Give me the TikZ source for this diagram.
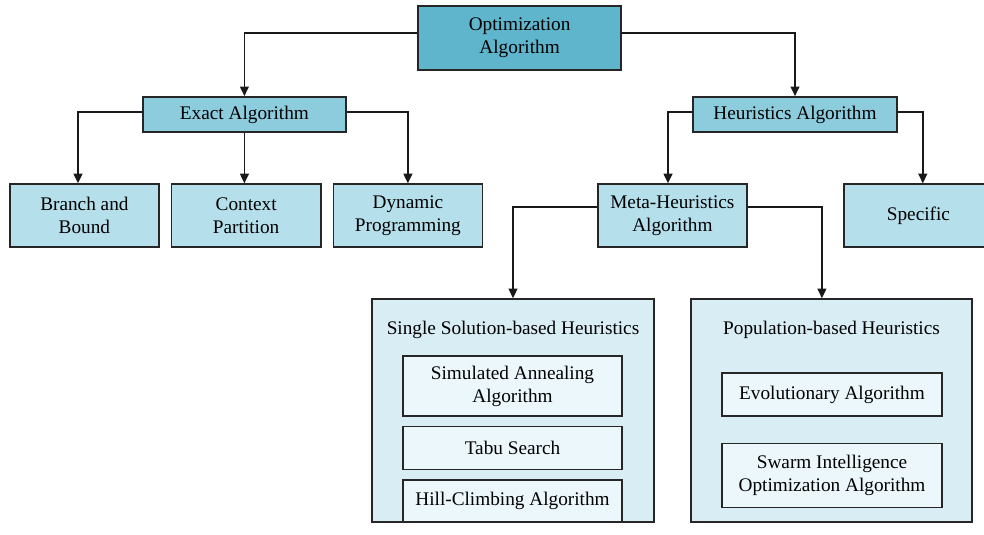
\documentclass[tikz,border=0pt]{standalone}
\usepackage{fontspec}
\setmainfont{Liberation Serif}
\usepackage{tikz}
\usetikzlibrary{arrows.meta, positioning, calc}
\usepackage{xcolor}
\definecolor{cTop}{RGB}{94,181,204}
\definecolor{cMid}{RGB}{141,204,221}
\definecolor{cLeaf}{RGB}{181,223,235}
\definecolor{cGroup}{RGB}{216,237,244}
\definecolor{cInner}{RGB}{236,247,251}
\tikzset{
  basebox/.style={rectangle, draw=black!85, line width=1.1pt, align=center,
                  font=\fontsize{13.7}{16.4}\selectfont, inner sep=2pt},
  topnode/.style={basebox, fill=cTop, minimum width=5.08cm,
                  minimum height=1.6cm},
  midnode/.style={basebox, fill=cMid, minimum width=5.08cm,
                  minimum height=0.875cm},
  leafnode/.style={basebox, fill=cLeaf, minimum width=3.73cm,
                   minimum height=1.575cm},
  groupnode/.style={basebox, fill=cGroup, minimum width=7.05cm,
                    minimum height=5.575cm},
  innernode/.style={basebox, fill=cInner, minimum width=5.5cm},
  headnode/.style={font=\fontsize{13.7}{16.4}\selectfont, inner sep=0pt},
  arrow/.style={-{Triangle[length=2.4mm, width=2.2mm]}, line width=1.1pt,
                color=black!90}
}

\begin{document}
\begin{tikzpicture}
  \useasboundingbox (0,0) rectangle (24.6,-13.35);

  % Root
  \node[topnode] (opt) at (12.99,-0.95) {Optimization\\Algorithm};

  % Second level
  \node[midnode] (exact) at (6.11,-2.86) {Exact Algorithm};
  \node[midnode, minimum width=5.1cm] (heur) at (19.875,-2.86) {Heuristics Algorithm};

  % Exact branch
  \node[leafnode] (bnb) at (2.11,-5.39) {Branch and\\Bound};
  \node[leafnode, right=0.275cm of bnb] (ctx) {Context\\Partition};
  \node[leafnode, right=0.275cm of ctx] (dyn) {Dynamic\\Programming};

  % Heuristics branch
  \node[leafnode] (meta) at (16.81,-5.39) {Meta-Heuristics\\Algorithm};
  \node[leafnode] (spec) at (22.96,-5.39) {Specific};

  % Meta-heuristic families
  \node[groupnode] (single) at (12.825,-10.2625) {};
  \node[groupnode, minimum width=7.025cm] (pop) at (20.7875,-10.2625) {};

  \node[headnode] (singlehead) at ($(single.north)+(0,-0.78)$)
      {Single Solution-based Heuristics};
  \node[headnode] (pophead) at ($(pop.north)+(0,-0.78)$)
      {Population-based Heuristics};

  \node[innernode, minimum width=5.475cm, minimum height=1.5cm] (sa)
      at (12.8125,-9.65) {Simulated Annealing\\Algorithm};
  \node[innernode, minimum width=5.475cm, minimum height=1.075cm,
        below=0.225cm of sa] (tabu) {Tabu Search};
  \node[innernode, minimum width=5.475cm, minimum height=1.05cm,
        below=0.225cm of tabu] (hill) {Hill-Climbing Algorithm};

  \node[innernode, minimum height=1.075cm] (evo) at (20.8,-9.8625)
      {Evolutionary Algorithm};
  \node[innernode, minimum height=1.6cm, below=0.65cm of evo] (swarm)
      {Swarm Intelligence\\Optimization Algorithm};

  % Connectors
  \draw[arrow] ($(opt.west)+(0,0.12)$) -| (exact.north);
  \draw[arrow] ($(opt.east)+(0,0.12)$) -| (heur.north);

  \draw[arrow] ($(exact.west)+(0,0.06)$) -| ($(bnb.north)+(-0.16,0)$);
  \draw[arrow] (exact.south) -- (exact.south |- ctx.north);
  \draw[arrow] ($(exact.east)+(0,0.06)$) -| (dyn.north);

  \draw[arrow] ($(heur.west)+(0,0.06)$) -| ($(meta.north)+(-0.11,0)$);
  \draw[arrow] ($(heur.east)+(0,0.06)$) -| ($(spec.north)+(0.11,0)$);

  \draw[arrow] ($(meta.west)+(0,0.21)$) -| (single.north);
  \draw[arrow] ($(meta.east)+(0,0.21)$) -| ($(pop.north)+(-0.24,0)$);

\end{tikzpicture}
\end{document}
